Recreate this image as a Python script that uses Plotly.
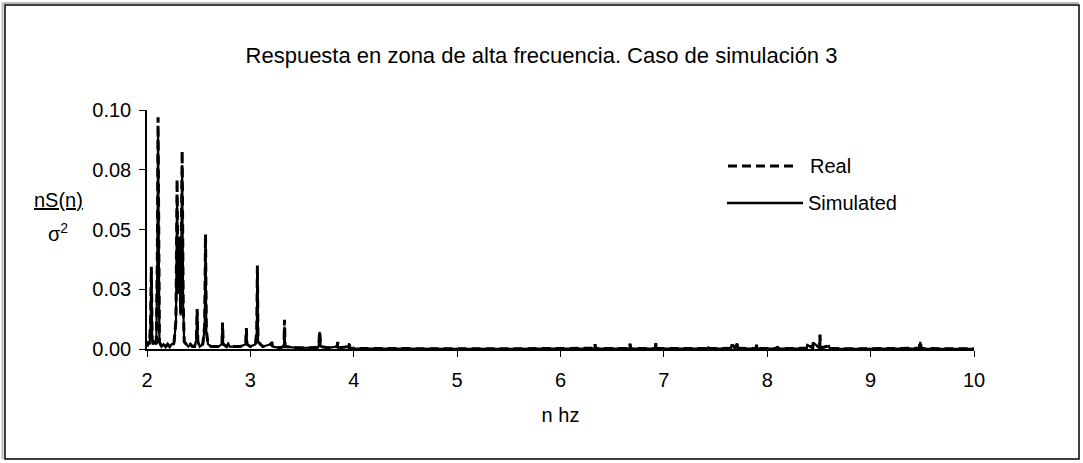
import plotly.graph_objects as go

# Spectral response, high-frequency band (n in Hz, nS(n)/sigma^2)
real_freq = [2.000, 2.010, 2.025, 2.035, 2.042, 2.050, 2.060, 2.075, 2.090, 2.100,
             2.107, 2.114, 2.120, 2.140, 2.160, 2.180, 2.200, 2.220, 2.240, 2.260,
             2.280, 2.291, 2.300, 2.315, 2.325, 2.340, 2.350, 2.360, 2.380, 2.400,
             2.420, 2.440, 2.460, 2.478, 2.485, 2.492, 2.510, 2.540, 2.558, 2.566,
             2.574, 2.590, 2.620, 2.650, 2.690, 2.725, 2.731, 2.737, 2.770, 2.785,
             2.800, 2.850, 2.900, 2.955, 2.961, 2.967, 3.000, 3.050, 3.062, 3.068,
             3.074, 3.120, 3.200, 3.207, 3.214, 3.280, 3.325, 3.330, 3.336, 3.450,
             3.550, 3.655, 3.663, 3.670, 3.680, 3.750, 3.840, 3.845, 3.850, 3.950,
             3.955, 3.960, 4.200, 4.500, 5.000, 5.500, 5.900, 6.100, 6.330, 6.334,
             6.340, 6.668, 6.673, 6.680, 6.918, 6.923, 6.930, 7.200, 7.425, 7.429,
             7.435, 7.650, 7.655, 7.690, 7.710, 7.720, 7.890, 7.897, 7.905, 8.090,
             8.097, 8.105, 8.380, 8.387, 8.440, 8.445, 8.505, 8.510, 8.515, 8.597,
             8.605, 8.900, 9.470, 9.480, 9.490, 9.700, 10.000]
real_val = [0.0010, 0.0030, 0.0020, 0.0120, 0.0344, 0.0040, 0.0020, 0.0030, 0.0020, 0.0400,
            0.0970, 0.0300, 0.0030, 0.0010, 0.0020, 0.0010, 0.0020, 0.0010, 0.0020, 0.0020,
            0.0120, 0.0710, 0.0250, 0.0450, 0.0150, 0.0830, 0.0200, 0.0030, 0.0020, 0.0010,
            0.0020, 0.0010, 0.0010, 0.0040, 0.0167, 0.0030, 0.0010, 0.0020, 0.0100, 0.0480,
            0.0080, 0.0020, 0.0010, 0.0010, 0.0010, 0.0020, 0.0111, 0.0020, 0.0010, 0.0020,
            0.0010, 0.0010, 0.0010, 0.0020, 0.0088, 0.0020, 0.0010, 0.0020, 0.0080, 0.0349,
            0.0030, 0.0010, 0.0020, 0.0030, 0.0010, 0.0005, 0.0010, 0.0122, 0.0010, 0.0005,
            0.0005, 0.0006, 0.0020, 0.0074, 0.0010, 0.0005, 0.0010, 0.0030, 0.0005, 0.0010,
            0.0025, 0.0003, 0.0002, 0.0001, 0.0001, 0.0001, 0.0003, 0.0002, 0.0003, 0.0020,
            0.0002, 0.0002, 0.0022, 0.0002, 0.0002, 0.0026, 0.0002, 0.0002, 0.0002, 0.0011,
            0.0002, 0.0003, 0.0020, 0.0004, 0.0024, 0.0003, 0.0002, 0.0018, 0.0002, 0.0002,
            0.0010, 0.0002, 0.0003, 0.0018, 0.0005, 0.0028, 0.0005, 0.0060, 0.0004, 0.0013,
            0.0002, 0.0001, 0.0003, 0.0031, 0.0002, 0.0001, 0.0001]

sim_freq = [2.000, 2.010, 2.025, 2.035, 2.042, 2.050, 2.060, 2.075, 2.090, 2.100,
            2.107, 2.114, 2.120, 2.140, 2.160, 2.180, 2.200, 2.220, 2.240, 2.260,
            2.280, 2.291, 2.300, 2.315, 2.325, 2.340, 2.350, 2.360, 2.380, 2.400,
            2.420, 2.440, 2.460, 2.478, 2.485, 2.492, 2.510, 2.540, 2.558, 2.566,
            2.574, 2.590, 2.620, 2.650, 2.690, 2.725, 2.731, 2.737, 2.770, 2.785,
            2.800, 2.850, 2.900, 2.955, 2.961, 2.967, 3.000, 3.050, 3.062, 3.068,
            3.074, 3.120, 3.200, 3.207, 3.214, 3.280, 3.325, 3.330, 3.336, 3.450,
            3.550, 3.655, 3.663, 3.670, 3.680, 3.750, 3.840, 3.845, 3.850, 3.950,
            3.955, 3.960, 4.200, 4.500, 5.000, 5.500, 5.900, 6.100, 6.330, 6.334,
            6.340, 6.668, 6.673, 6.680, 6.918, 6.923, 6.930, 7.200, 7.425, 7.429,
            7.435, 7.650, 7.655, 7.690, 7.710, 7.720, 7.890, 7.897, 7.905, 8.090,
            8.097, 8.105, 8.380, 8.387, 8.440, 8.445, 8.505, 8.510, 8.515, 8.597,
            8.605, 8.900, 9.470, 9.480, 9.490, 9.700, 10.000]
sim_val = [0.0010, 0.0030, 0.0020, 0.0110, 0.0330, 0.0040, 0.0020, 0.0030, 0.0020, 0.0380,
           0.0910, 0.0280, 0.0030, 0.0010, 0.0020, 0.0010, 0.0020, 0.0010, 0.0020, 0.0020,
           0.0110, 0.0640, 0.0230, 0.0470, 0.0140, 0.0770, 0.0180, 0.0030, 0.0020, 0.0010,
           0.0020, 0.0010, 0.0010, 0.0040, 0.0160, 0.0030, 0.0010, 0.0020, 0.0090, 0.0424,
           0.0070, 0.0020, 0.0010, 0.0010, 0.0010, 0.0020, 0.0108, 0.0020, 0.0010, 0.0020,
           0.0010, 0.0010, 0.0010, 0.0020, 0.0085, 0.0020, 0.0010, 0.0020, 0.0075, 0.0317,
           0.0030, 0.0010, 0.0020, 0.0028, 0.0010, 0.0005, 0.0010, 0.0094, 0.0010, 0.0005,
           0.0005, 0.0006, 0.0020, 0.0072, 0.0010, 0.0005, 0.0010, 0.0028, 0.0005, 0.0010,
           0.0024, 0.0003, 0.0002, 0.0001, 0.0001, 0.0001, 0.0003, 0.0002, 0.0003, 0.0019,
           0.0002, 0.0002, 0.0021, 0.0002, 0.0002, 0.0025, 0.0002, 0.0002, 0.0002, 0.0010,
           0.0002, 0.0003, 0.0019, 0.0004, 0.0023, 0.0003, 0.0002, 0.0017, 0.0002, 0.0002,
           0.0010, 0.0002, 0.0003, 0.0017, 0.0005, 0.0027, 0.0005, 0.0058, 0.0004, 0.0012,
           0.0002, 0.0001, 0.0003, 0.0030, 0.0002, 0.0001, 0.0001]

x_ticks = [2, 3, 4, 5, 6, 7, 8, 9, 10]
y_ticks = [0.0, 0.025, 0.05, 0.075, 0.1]
y_tick_text = ["0.00", "0.03", "0.05", "0.08", "0.10"]

FONT = "Liberation Sans, Arial, sans-serif"
TXT = 20

fig = go.Figure()
fig.add_trace(go.Scatter(x=real_freq, y=real_val, mode="lines", name="Real",
                         line=dict(color="black", width=3, dash="9px,5px")))
fig.add_trace(go.Scatter(x=sim_freq, y=sim_val, mode="lines", name="Simulated",
                         line=dict(color="black", width=2.2)))

# plot area geometry in pixels (for paper-coordinate conversions)
L, R, T, B = 147, 974, 110, 349
W, H = R - L, B - T


def px(x):
    return (x - L) / W


def py(y):
    return (B - y) / H


shapes = [
    # outer frame with light shadow
    dict(type="line", xref="paper", yref="paper", x0=px(2.5), x1=px(1079), y0=py(3), y1=py(3),
         line=dict(color="#bbbbbb", width=2)),
    dict(type="line", xref="paper", yref="paper", x0=px(2.5), x1=px(2.5), y0=py(3), y1=py(459),
         line=dict(color="#bbbbbb", width=2)),
    dict(type="rect", xref="paper", yref="paper", x0=px(5), x1=px(1079), y0=py(459), y1=py(5),
         line=dict(color="black", width=1.5)),
    # legend samples
    dict(type="line", xref="paper", yref="paper", x0=px(728), x1=px(797), y0=py(166), y1=py(166),
         line=dict(color="black", width=3, dash="9px,5px")),
    dict(type="line", xref="paper", yref="paper", x0=px(727), x1=px(803), y0=py(203), y1=py(203),
         line=dict(color="black", width=2.5)),
]

annotations = [
    dict(text="Real", xref="paper", yref="paper", x=px(808), y=py(166), xanchor="left",
         yanchor="middle", showarrow=False, font=dict(family=FONT, size=TXT, color="black")),
    dict(text="Simulated", xref="paper", yref="paper", x=px(806), y=py(203), xanchor="left",
         yanchor="middle", showarrow=False, font=dict(family=FONT, size=TXT, color="black")),
    dict(text="<u>nS(n)</u>", xref="paper", yref="paper", x=px(58), y=py(200), xanchor="center",
         yanchor="middle", showarrow=False, font=dict(family=FONT, size=TXT, color="black")),
    dict(text="σ<sup>2</sup>", xref="paper", yref="paper", x=px(58), y=py(232), xanchor="center",
         yanchor="middle", showarrow=False, font=dict(family=FONT, size=TXT, color="black")),
]

fig.update_layout(
    width=1083, height=463,
    margin=dict(l=L, r=1083 - R, t=T, b=463 - B),
    paper_bgcolor="white", plot_bgcolor="white",
    showlegend=False,
    font=dict(family=FONT, size=TXT, color="black"),
    title=dict(text="Respuesta en zona de alta frecuencia. Caso de simulación 3",
               x=0.5, xref="container", xanchor="center", y=1 - 55 / 463, yanchor="middle",
               font=dict(family=FONT, size=22, color="black")),
    shapes=shapes,
    annotations=annotations,
)

fig.update_xaxes(range=[2, 10], tickvals=x_ticks, ticks="outside", ticklen=6,
                 tickcolor="black", showline=True, linecolor="black", linewidth=1.5,
                 showgrid=False, zeroline=False, ticklabelstandoff=6,
                 tickfont=dict(size=TXT),
                 title=dict(text="n hz", standoff=18, font=dict(size=TXT)))
fig.update_yaxes(range=[0, 0.1], tickvals=y_ticks, ticktext=y_tick_text, ticks="outside",
                 ticklen=6, tickcolor="black", showline=True, linecolor="black", linewidth=1.5,
                 showgrid=False, zeroline=False, ticklabelstandoff=4,
                 tickfont=dict(size=TXT))

fig.write_html("out.html")
